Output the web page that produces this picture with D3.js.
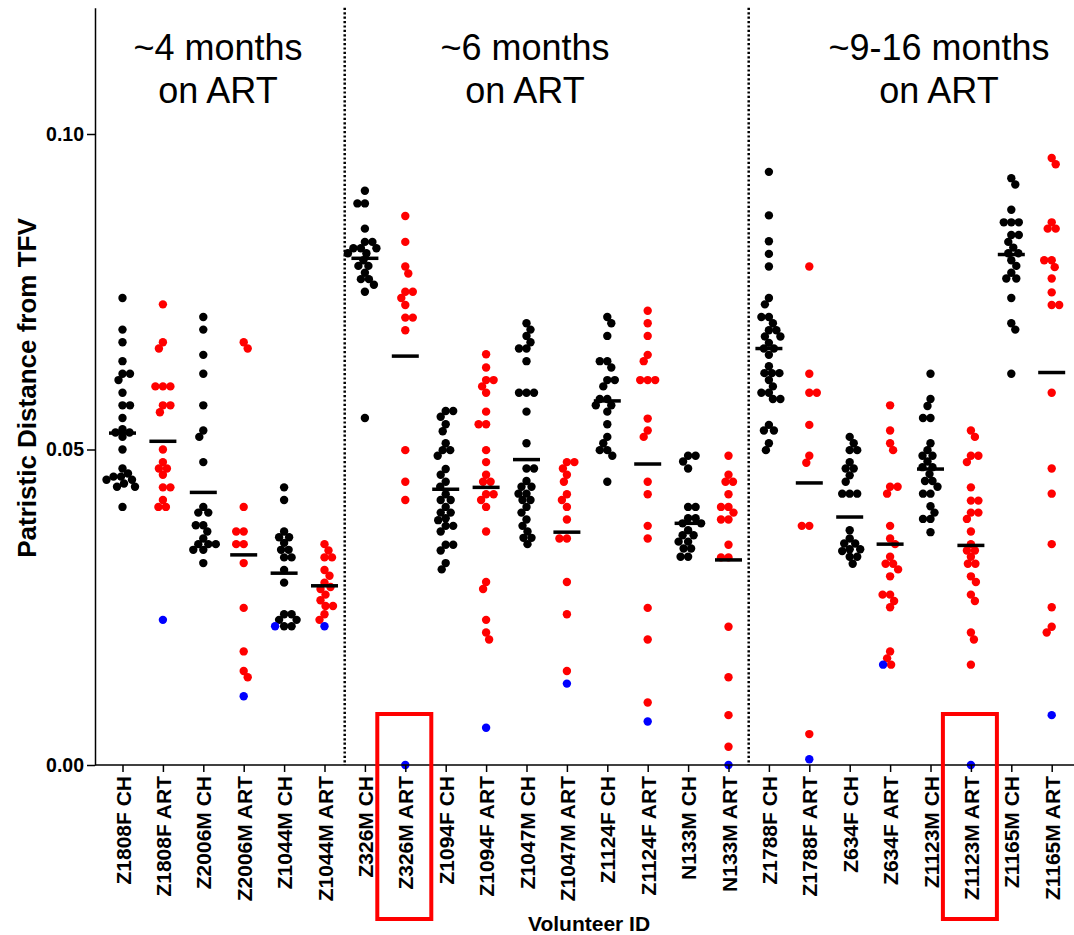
<!DOCTYPE html>
<meta charset="utf-8">
<body style="margin:0;background:#fff">
<svg width="1074" height="935"></svg>
</body>
<script src="https://cdn.jsdelivr.net/npm/d3@7"></script>
<script>

var categories = ["Z1808F CH", "Z1808F ART", "Z2006M CH", "Z2006M ART", "Z1044M CH", "Z1044M ART",
    "Z326M CH", "Z326M ART", "Z1094F CH", "Z1094F ART", "Z1047M CH", "Z1047M ART",
    "Z1124F CH", "Z1124F ART", "N133M CH", "N133M ART", "Z1788F CH", "Z1788F ART",
    "Z634F CH", "Z634F ART", "Z1123M CH", "Z1123M ART", "Z1165M CH", "Z1165M ART"];

var groupLabels = [["~4 months", "on ART"], ["~6 months", "on ART"], ["~9-16 months", "on ART"]];
var groupSplits = [5.5, 15.5];       // category positions of the dotted separators
var highlighted = ["Z326M ART", "Z1123M ART"];
var yTicks = [0, 0.05, 0.10];

// patristic distances, one array per column
var z1808fCH  = [0.0740, 0.0690, 0.0670, 0.0640, 0.0620, 0.0620, 0.0610, 0.0590, 0.0570, 0.0570, 0.0550, 0.0532, 0.0527, 0.0527, 0.0520, 0.0500, 0.0470, 0.0462, 0.0457, 0.0457, 0.0452, 0.0452, 0.0446, 0.0441, 0.0441, 0.0409];
var z1808fART = [0.0730, 0.0670, 0.0660, 0.0600, 0.0600, 0.0600, 0.0570, 0.0570, 0.0559, 0.0500, 0.0480, 0.0470, 0.0470, 0.0460, 0.0440, 0.0440, 0.0420, 0.0409, 0.0409];
var z2006mCH  = [0.0710, 0.0690, 0.0650, 0.0620, 0.0570, 0.0530, 0.0520, 0.0480, 0.0409, 0.0400, 0.0400, 0.0380, 0.0380, 0.0370, 0.0359, 0.0350, 0.0350, 0.0350, 0.0341, 0.0341, 0.0320];
var z2006mART = [0.0670, 0.0660, 0.0409, 0.0370, 0.0370, 0.0350, 0.0350, 0.0320, 0.0249, 0.0180, 0.0149, 0.0139];
var z1044mCH  = [0.0440, 0.0420, 0.0370, 0.0361, 0.0361, 0.0352, 0.0341, 0.0341, 0.0329, 0.0329, 0.0309, 0.0289, 0.0239, 0.0239, 0.0230, 0.0230, 0.0220, 0.0220];
var z1044mART = [0.0350, 0.0340, 0.0329, 0.0329, 0.0309, 0.0300, 0.0289, 0.0282, 0.0279, 0.0270, 0.0261, 0.0252, 0.0252, 0.0239, 0.0230];
var z326mCH   = [0.0910, 0.0890, 0.0890, 0.0850, 0.0829, 0.0829, 0.0819, 0.0819, 0.0819, 0.0811, 0.0811, 0.0800, 0.0791, 0.0791, 0.0780, 0.0770, 0.0770, 0.0761, 0.0750, 0.0550];
var z326mART  = [0.0870, 0.0829, 0.0790, 0.0779, 0.0750, 0.0750, 0.0740, 0.0729, 0.0709, 0.0709, 0.0689, 0.0499, 0.0449, 0.0420];
var z1094fCH  = [0.0561, 0.0561, 0.0552, 0.0540, 0.0529, 0.0510, 0.0499, 0.0499, 0.0490, 0.0469, 0.0460, 0.0449, 0.0441, 0.0429, 0.0420, 0.0420, 0.0409, 0.0400, 0.0400, 0.0391, 0.0388, 0.0379, 0.0379, 0.0370, 0.0349, 0.0349, 0.0340, 0.0320, 0.0310];
var z1094fART = [0.0651, 0.0630, 0.0610, 0.0610, 0.0600, 0.0590, 0.0560, 0.0540, 0.0540, 0.0499, 0.0480, 0.0460, 0.0449, 0.0449, 0.0429, 0.0429, 0.0420, 0.0409, 0.0370, 0.0290, 0.0279, 0.0230, 0.0210, 0.0199];
var z1047mCH  = [0.0700, 0.0690, 0.0680, 0.0670, 0.0660, 0.0660, 0.0640, 0.0590, 0.0590, 0.0590, 0.0560, 0.0510, 0.0470, 0.0470, 0.0450, 0.0441, 0.0441, 0.0430, 0.0430, 0.0420, 0.0420, 0.0409, 0.0400, 0.0389, 0.0379, 0.0370, 0.0360, 0.0360, 0.0350];
var z1047mART = [0.0480, 0.0480, 0.0470, 0.0460, 0.0449, 0.0429, 0.0420, 0.0409, 0.0389, 0.0359, 0.0359, 0.0290, 0.0239, 0.0149];
var z1124fCH  = [0.0710, 0.0700, 0.0680, 0.0640, 0.0640, 0.0630, 0.0610, 0.0610, 0.0600, 0.0580, 0.0580, 0.0570, 0.0570, 0.0560, 0.0540, 0.0520, 0.0510, 0.0499, 0.0499, 0.0490, 0.0449];
var z1124fART = [0.0720, 0.0700, 0.0680, 0.0650, 0.0640, 0.0610, 0.0610, 0.0610, 0.0549, 0.0530, 0.0520, 0.0449, 0.0429, 0.0379, 0.0359, 0.0249, 0.0199, 0.0099];
var n133mCH   = [0.0490, 0.0490, 0.0481, 0.0470, 0.0409, 0.0409, 0.0391, 0.0391, 0.0383, 0.0383, 0.0372, 0.0364, 0.0364, 0.0354, 0.0354, 0.0343, 0.0343, 0.0330, 0.0330];
var n133mART  = [0.0490, 0.0460, 0.0449, 0.0449, 0.0429, 0.0409, 0.0409, 0.0400, 0.0389, 0.0389, 0.0349, 0.0329, 0.0329, 0.0219, 0.0139, 0.0079, 0.0029];
var z1788fCH  = [0.0940, 0.0871, 0.0830, 0.0810, 0.0790, 0.0740, 0.0730, 0.0710, 0.0710, 0.0700, 0.0689, 0.0689, 0.0679, 0.0679, 0.0669, 0.0660, 0.0660, 0.0650, 0.0632, 0.0621, 0.0621, 0.0621, 0.0610, 0.0600, 0.0590, 0.0590, 0.0580, 0.0580, 0.0539, 0.0530, 0.0530, 0.0510, 0.0499];
var z1788fART = [0.0790, 0.0620, 0.0590, 0.0590, 0.0539, 0.0490, 0.0479, 0.0379, 0.0379, 0.0049];
var z634fCH   = [0.0520, 0.0510, 0.0499, 0.0499, 0.0480, 0.0470, 0.0470, 0.0459, 0.0449, 0.0430, 0.0430, 0.0430, 0.0372, 0.0359, 0.0351, 0.0351, 0.0342, 0.0342, 0.0339, 0.0330, 0.0330, 0.0319];
var z634fART  = [0.0570, 0.0530, 0.0510, 0.0499, 0.0441, 0.0441, 0.0430, 0.0379, 0.0359, 0.0350, 0.0330, 0.0319, 0.0319, 0.0310, 0.0299, 0.0270, 0.0270, 0.0260, 0.0250, 0.0180, 0.0169, 0.0159];
var z1123mCH  = [0.0620, 0.0580, 0.0569, 0.0550, 0.0550, 0.0510, 0.0499, 0.0490, 0.0490, 0.0481, 0.0472, 0.0472, 0.0461, 0.0450, 0.0450, 0.0441, 0.0430, 0.0430, 0.0410, 0.0400, 0.0390, 0.0390, 0.0369];
var z1123mART = [0.0530, 0.0520, 0.0490, 0.0490, 0.0480, 0.0440, 0.0419, 0.0419, 0.0400, 0.0400, 0.0390, 0.0370, 0.0350, 0.0340, 0.0340, 0.0330, 0.0319, 0.0319, 0.0299, 0.0290, 0.0270, 0.0260, 0.0210, 0.0199, 0.0159];
var z1165mCH  = [0.0930, 0.0920, 0.0880, 0.0860, 0.0860, 0.0860, 0.0840, 0.0840, 0.0829, 0.0820, 0.0811, 0.0811, 0.0800, 0.0791, 0.0780, 0.0771, 0.0771, 0.0740, 0.0700, 0.0690, 0.0620];
var z1165mART = [0.0962, 0.0952, 0.0860, 0.0850, 0.0850, 0.0800, 0.0800, 0.0789, 0.0771, 0.0749, 0.0729, 0.0729, 0.0590, 0.0470, 0.0430, 0.0350, 0.0250, 0.0219, 0.0210];

var columnValues = [z1808fCH, z1808fART, z2006mCH, z2006mART, z1044mCH, z1044mART,
    z326mCH, z326mART, z1094fCH, z1094fART, z1047mCH, z1047mART,
    z1124fCH, z1124fART, n133mCH, n133mART, z1788fCH, z1788fART,
    z634fCH, z634fART, z1123mCH, z1123mART, z1165mCH, z1165mART];

// blue points (one per column, null if none)
var bluePoints = [null, 0.0230, null, 0.0109, 0.0220, 0.0220, null, 0.0000, null, 0.0059, null, 0.0129,
    null, 0.0069, null, 0.0000, null, 0.0009, null, 0.0159, null, 0.0000, null, 0.0079];

// horizontal bars
var columnMeans = [0.0526, 0.0513, 0.0432, 0.0333, 0.0304, 0.0284, 0.0803, 0.0648, 0.0437, 0.0440, 0.0484, 0.0369,
    0.0577, 0.0477, 0.0383, 0.0325, 0.0660, 0.0447, 0.0393, 0.0350, 0.0469, 0.0348, 0.0809, 0.0622];

var FONT = "'Liberation Sans', Arial, sans-serif";
var svg = d3.select("svg");

var x = d3.scalePoint().domain(categories).range([122.5, 1051.7]);
var y = d3.scaleLinear().domain([0, 0.12]).range([765, 7.8]);
var step = x.step();

var R = 4.2, minD = 7.4;

// simple beeswarm, top to bottom
function swarm(points, cx) {
    var placed = [];
    points.slice().sort((a, b) => b.v - a.v).forEach(function(p, n) {
        var py = y(p.v), sign = n % 2 ? 1 : -1;
        for (var k = 0; k < 200; k++) {
            var off = k === 0 ? 0 : (k % 2 ? sign : -sign) * Math.ceil(k / 2) * 0.5;
            var ok = placed.every(q => {
                var dx = cx + off - q.x, dy = py - q.y;
                return dx * dx + dy * dy >= minD * minD;
            });
            if (ok) { placed.push({x: cx + off, y: py, c: p.c}); break; }
        }
    });
    return placed;
}

var dots = [];
categories.forEach(function(cat, i) {
    var col = cat.endsWith("ART") ? "#ff0000" : "#000000";
    var pts = columnValues[i].map(v => ({v: v, c: col}));
    if (bluePoints[i] !== null) pts.push({v: bluePoints[i], c: "#0000ff"});
    dots = dots.concat(swarm(pts, x(cat)));
});

// group separators
groupSplits.forEach(function(s) {
    var sx = x(categories[0]) + s * step;
    svg.append("line")
        .attr("x1", sx).attr("x2", sx)
        .attr("y1", y(0.12)).attr("y2", y(0))
        .attr("stroke", "#000").attr("stroke-width", 2.5)
        .attr("stroke-dasharray", "2.2,2.2");
});

svg.append("g").selectAll("circle")
    .data(dots)
    .join("circle")
    .attr("cx", d => d.x)
    .attr("cy", d => d.y)
    .attr("r", R)
    .attr("fill", d => d.c);

svg.append("g").selectAll("line")
    .data(categories)
    .join("line")
    .attr("x1", d => x(d) - 13.5)
    .attr("x2", d => x(d) + 13.5)
    .attr("y1", (d, i) => y(columnMeans[i]))
    .attr("y2", (d, i) => y(columnMeans[i]))
    .attr("stroke", "#000")
    .attr("stroke-width", 3.5);

// axes
var yAxis = svg.append("g")
    .attr("transform", "translate(95,0)")
    .call(d3.axisLeft(y).tickValues(yTicks).tickFormat(d3.format(".2f")).tickSize(8).tickSizeOuter(0).tickPadding(3));
yAxis.selectAll("path, line").attr("stroke", "#000").attr("stroke-width", 1.5);
yAxis.selectAll("text").attr("font-family", FONT).attr("font-size", 19.5).attr("font-weight", "bold").attr("fill", "#000");

var xAxis = svg.append("g")
    .attr("transform", "translate(0,765)")
    .call(d3.axisBottom(x).tickSize(7).tickSizeOuter(0));
xAxis.select(".domain").remove();
xAxis.selectAll("line").attr("stroke", "#000").attr("stroke-width", 1.5);
xAxis.selectAll("text")
    .attr("font-family", FONT).attr("font-size", 21).attr("font-weight", "bold").attr("fill", "#000")
    .attr("transform", "rotate(-90)")
    .attr("text-anchor", "end")
    .attr("x", -11).attr("y", 0).attr("dy", "0.36em");

svg.append("line")
    .attr("x1", 95).attr("x2", 1074)
    .attr("y1", 765).attr("y2", 765)
    .attr("stroke", "#000").attr("stroke-width", 1.5);

// highlight boxes
svg.append("g").selectAll("rect")
    .data(highlighted)
    .join("rect")
    .attr("x", d => x(d) - 28)
    .attr("y", 714)
    .attr("width", 54)
    .attr("height", 205)
    .attr("fill", "none")
    .attr("stroke", "#ff0000")
    .attr("stroke-width", 4);

// titles
svg.append("text")
    .attr("transform", "translate(36,388) rotate(-90)")
    .attr("text-anchor", "middle")
    .attr("font-family", FONT).attr("font-size", 26).attr("font-weight", "bold")
    .text("Patristic Distance from TFV");

svg.append("text")
    .attr("x", 589).attr("y", 931)
    .attr("text-anchor", "middle")
    .attr("font-family", FONT).attr("font-size", 21).attr("font-weight", "bold")
    .text("Volunteer ID");

var groupX = [218, 525, 939];
groupLabels.forEach(function(lines, g) {
    lines.forEach(function(t, j) {
        svg.append("text")
            .attr("x", groupX[g]).attr("y", 60 + j * 43)
            .attr("text-anchor", "middle")
            .attr("font-family", FONT).attr("font-size", 36)
            .text(t);
    });
});

</script>
